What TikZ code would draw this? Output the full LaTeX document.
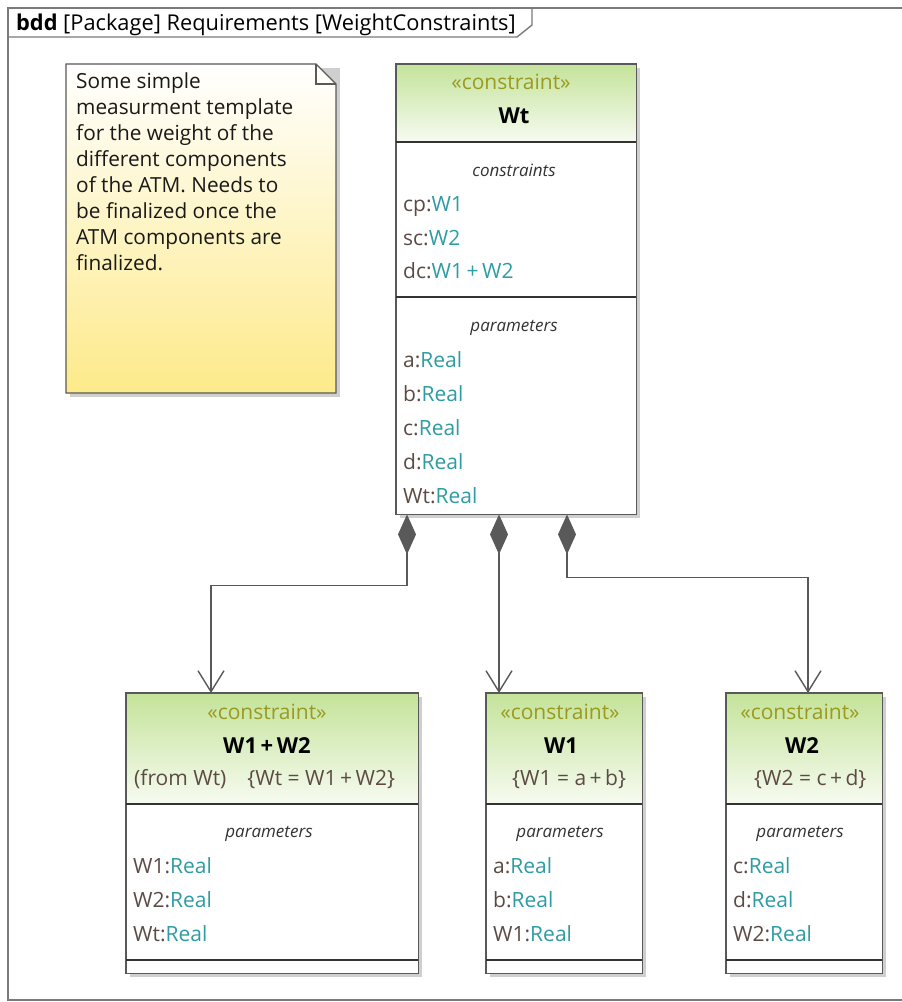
\documentclass[tikz,border=0pt]{standalone}
\usepackage{fontspec}
\setmainfont{Open Sans}
\usetikzlibrary{arrows.meta,calc}
\definecolor{bordc}{HTML}{595959}
\definecolor{namec}{HTML}{5C4B45}
\definecolor{typec}{HTML}{2E9CA3}
\definecolor{stereoc}{HTML}{9A9A1E}
\definecolor{hdtop}{HTML}{C4E39A}
\definecolor{hdbot}{HTML}{F7FBF1}
\definecolor{notebot}{HTML}{FDEA8A}
\definecolor{shadc}{HTML}{CFCFCF}
\newcommand{\nt}[2]{\textcolor{namec}{#1}\textcolor{typec}{#2}}
\newcommand{\pl}{\,+\,}
\begin{document}
\begin{tikzpicture}[x=1pt,y=-1pt,
  font=\fontsize{21}{24}\selectfont,
  blk/.style={fill=white, inner sep=0pt, anchor=north west},
  bord/.style={draw=bordc, line width=1.4pt},
  sep/.style={draw=black!80, line width=1.4pt},
  shad/.style={fill=shadc},
  txt/.style={inner sep=0pt, anchor=base west},
  ctxt/.style={inner sep=0pt, anchor=base},
  stereo/.style={ctxt, text=stereoc},
  bname/.style={ctxt, font=\fontsize{22}{24}\selectfont\bfseries},
  comp/.style={ctxt, font=\fontsize{17}{20}\selectfont\itshape, text=black!80},
  conn/.style={draw=bordc, line width=1.4pt},
  comptip/.style={{Diamond[width=18pt,length=40pt,fill=bordc,color=bordc]}-{Straight Barb[length=21pt,width=26pt,line width=1.4pt]}}
]
\useasboundingbox (0,0) rectangle (902,1002);
\fill[white] (0,0) rectangle (902,1002);
% frame
\draw[draw=bordc!80, line width=1.4pt] (910,8) -- (8,8) -- (8,1000) -- (910,1000);
\draw[draw=bordc!80, line width=1.4pt] (8,37) -- (517,37) -- (532,25) -- (532,8);
\node[txt, font=\fontsize{21.8}{24}\selectfont] (title) at (16,30) {\textbf{bdd} [Package] Requirements [WeightConstraints]};

% note
\fill[shad] (70,68) rectangle (340,397);
\shade[top color=white, bottom color=notebot] (66,64) -- (316,64) -- (336,84) -- (336,393) -- (66,393) -- cycle;
\draw[bord] (66,64) -- (316,64) -- (336,84) -- (336,393) -- (66,393) -- cycle;
\draw[draw=bordc, line width=1.2pt] (316,64) -- (316,84) -- (336,84);
\node[txt, text=black!90, font=\fontsize{20.8}{26}\selectfont, align=left, anchor=north west] (note) at (76,72) {Some simple\\measurment template\\for the weight of the\\different components\\of the ATM. Needs to\\be finalized once the\\ATM components are\\finalized.};

% Wt block
\fill[shad] (400,68) rectangle (640,518);
\node[blk, minimum width=240pt, minimum height=450pt] (wt) at (396,64) {};
\shade[top color=hdtop, bottom color=hdbot] (396,64) rectangle (636,142);
\draw[bord] (wt.north west) rectangle (wt.south east);
\draw[sep] ($(wt.north west)+(0,78)$) -- ($(wt.north east)+(0,78)$);
\draw[sep] ($(wt.north west)+(0,233)$) -- ($(wt.north east)+(0,233)$);
\node[stereo] (wts) at (511,89) {«constraint»};
\node[bname] (wtn) at (514,123) {Wt};
\node[comp] (wtc) at (514,176) {constraints};
\node[txt] (wt1) at (403,211) {\nt{cp:}{W1}};
\node[txt] (wt2) at (403,245) {\nt{sc:}{W2}};
\node[txt] (wt3) at (403,278) {\nt{dc:}{W1\pl W2}};
\node[comp] (wtp) at (514,331) {parameters};
\node[txt] (wt4) at (403,367) {\nt{a:}{Real}};
\node[txt] (wt5) at (403,401) {\nt{b:}{Real}};
\node[txt] (wt6) at (403,435) {\nt{c:}{Real}};
\node[txt] (wt7) at (403,469) {\nt{d:}{Real}};
\node[txt] (wt8) at (403,503) {\nt{Wt:}{Real}};

% W1+W2 block
\fill[shad] (130,697) rectangle (422,977);
\node[blk, minimum width=292pt, minimum height=280pt] (w12) at (126,693) {};
\shade[top color=hdtop, bottom color=hdbot] (126,693) rectangle (418,804);
\draw[bord] (w12.north west) rectangle (w12.south east);
\draw[sep] ($(w12.north west)+(0,111)$) -- ($(w12.north east)+(0,111)$);
\draw[sep] ($(w12.north west)+(0,267)$) -- ($(w12.north east)+(0,267)$);
\node[stereo] (w12s) at (267,719) {«constraint»};
\node[bname] (w12n) at (267,753) {W1\pl W2};
\node[txt, text=namec] (w12f) at (134,785) {(from Wt)\quad\{Wt~=~W1\pl W2\}};
\node[comp] (w12p) at (269,837) {parameters};
\node[txt] (w121) at (133,873) {\nt{W1:}{Real}};
\node[txt] (w122) at (133,907) {\nt{W2:}{Real}};
\node[txt] (w123) at (133,941) {\nt{Wt:}{Real}};

% W1 block
\fill[shad] (490,697) rectangle (646,977);
\node[blk, minimum width=156pt, minimum height=280pt] (w1) at (486,693) {};
\shade[top color=hdtop, bottom color=hdbot] (486,693) rectangle (642,804);
\draw[bord] (w1.north west) rectangle (w1.south east);
\draw[sep] ($(w1.north west)+(0,111)$) -- ($(w1.north east)+(0,111)$);
\draw[sep] ($(w1.north west)+(0,267)$) -- ($(w1.north east)+(0,267)$);
\node[stereo] (w1s) at (560,719) {«constraint»};
\node[bname] (w1n) at (561,753) {W1};
\node[txt, text=namec] (w1f) at (512,785) {\{W1~=~a\pl b\}};
\node[comp] (w1p) at (560,837) {parameters};
\node[txt] (w11) at (493,873) {\nt{a:}{Real}};
\node[txt] (w12r) at (493,907) {\nt{b:}{Real}};
\node[txt] (w13) at (493,941) {\nt{W1:}{Real}};

% W2 block
\fill[shad] (730,697) rectangle (886,977);
\node[blk, minimum width=156pt, minimum height=280pt] (w2) at (726,693) {};
\shade[top color=hdtop, bottom color=hdbot] (726,693) rectangle (882,804);
\draw[bord] (w2.north west) rectangle (w2.south east);
\draw[sep] ($(w2.north west)+(0,111)$) -- ($(w2.north east)+(0,111)$);
\draw[sep] ($(w2.north west)+(0,267)$) -- ($(w2.north east)+(0,267)$);
\node[stereo] (w2s) at (800,719) {«constraint»};
\node[bname] (w2n) at (802,753) {W2};
\node[txt, text=namec] (w2f) at (754,785) {\{W2~=~c\pl d\}};
\node[comp] (w2p) at (800,837) {parameters};
\node[txt] (w21) at (733,873) {\nt{c:}{Real}};
\node[txt] (w22) at (733,907) {\nt{d:}{Real}};
\node[txt] (w23) at (733,941) {\nt{W2:}{Real}};

% connectors
\draw[conn, comptip] ($(wt.south west)+(11,0)$) -- ++(0,71) -| ($(w12.north west)+(85,0)$);
\draw[conn, comptip] ($(wt.south west)+(103,0)$) -- ($(w1.north west)+(13,0)$);
\draw[conn, comptip] ($(wt.south west)+(171,0)$) -- ++(0,63) -| ($(w2.north west)+(82,0)$);
\end{tikzpicture}
\end{document}
